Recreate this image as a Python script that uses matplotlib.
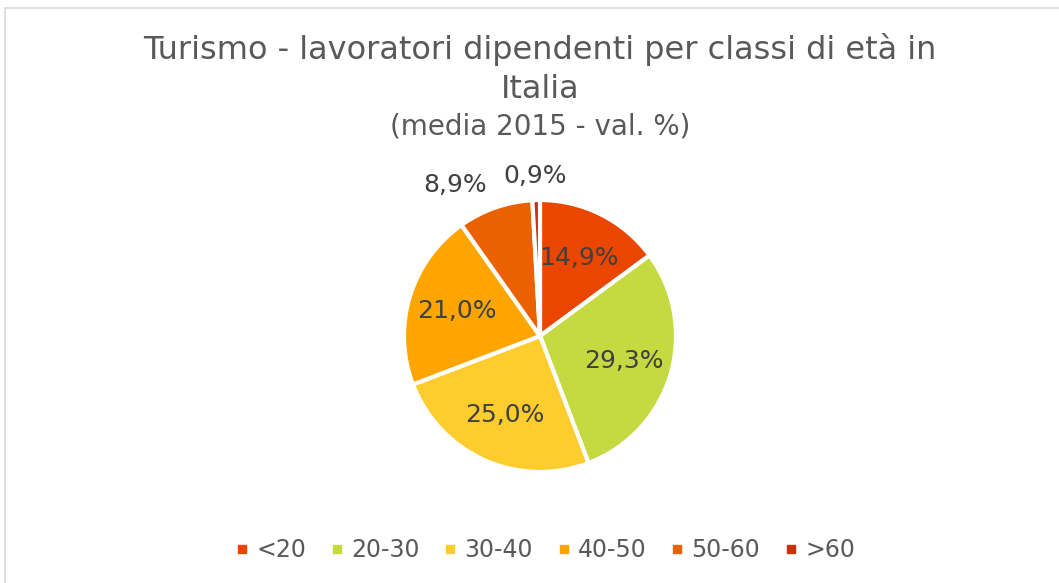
import matplotlib.pyplot as plt
from matplotlib.patches import Rectangle
import numpy as np

# Dati
categorie = ['<20', '20-30', '30-40', '40-50', '50-60', '>60']
valori = [14.9, 29.3, 25.0, 21.0, 8.9, 0.9]
colori = ['#EA4600', '#C5D941', '#FFCC2E', '#FFA500', '#EB6100', '#C8340A']
etichette = ['14,9%', '29,3%', '25,0%', '21,0%', '8,9%', '0,9%']

W, H = 1059, 583
fig = plt.figure(figsize=(W / 100, H / 100), dpi=100)
plt.rcParams['font.family'] = ['DejaVu Sans']

# cornice grigia chiara
fig.patches.append(Rectangle((5 / W, -0.1), 1.2, 1 - 8 / H + 0.1, transform=fig.transFigure,
                             fill=False, edgecolor='#D9D9D9', linewidth=1.2))

# asse della torta: centro (540, 336), raggio 136 px
cx, cy, R, half = 540, 336, 136, 200
ax = fig.add_axes([(cx - half) / W, (H - cy - half) / H, 2 * half / W, 2 * half / H])

wedges, _ = ax.pie(valori, colors=colori, startangle=90, counterclock=False, radius=1,
                   wedgeprops=dict(edgecolor='white', linewidth=3))
ax.set_xlim(-half / R, half / R)
ax.set_ylim(-half / R, half / R)
ax.axis('off')

for w, lab, v in zip(wedges, etichette, valori):
    ang = np.deg2rad((w.theta1 + w.theta2) / 2)
    if v > 10:
        d, ha = 0.64, 'center'
    else:
        d = 1.18
        ha = 'right' if np.cos(ang) < -0.2 else 'center'
    ax.text(d * np.cos(ang), d * np.sin(ang), lab, ha=ha, va='center',
            fontsize=18, color='#404040')

# titolo
fig.text(cx / W, 1 - 50 / H, 'Turismo - lavoratori dipendenti per classi di età in',
         ha='center', va='center', fontsize=23, color='#595959')
fig.text(cx / W, 1 - 89 / H, 'Italia', ha='center', va='center', fontsize=23, color='#595959')
fig.text(cx / W, 1 - 126 / H, '(media 2015 - val. %)', ha='center', va='center',
         fontsize=20, color='#595959')

# legenda
handles = [plt.Line2D([], [], marker='s', linestyle='none', markersize=6,
                      markerfacecolor=c, markeredgecolor=c) for c in colori]
fig.legend(handles, categorie, loc='center', bbox_to_anchor=(545 / W, 1 - 550 / H), ncol=6,
           frameon=False, fontsize=17, handlelength=0.6, handletextpad=0.3,
           columnspacing=1.0, labelcolor='#595959')

fig.savefig('out.png', dpi=100)
